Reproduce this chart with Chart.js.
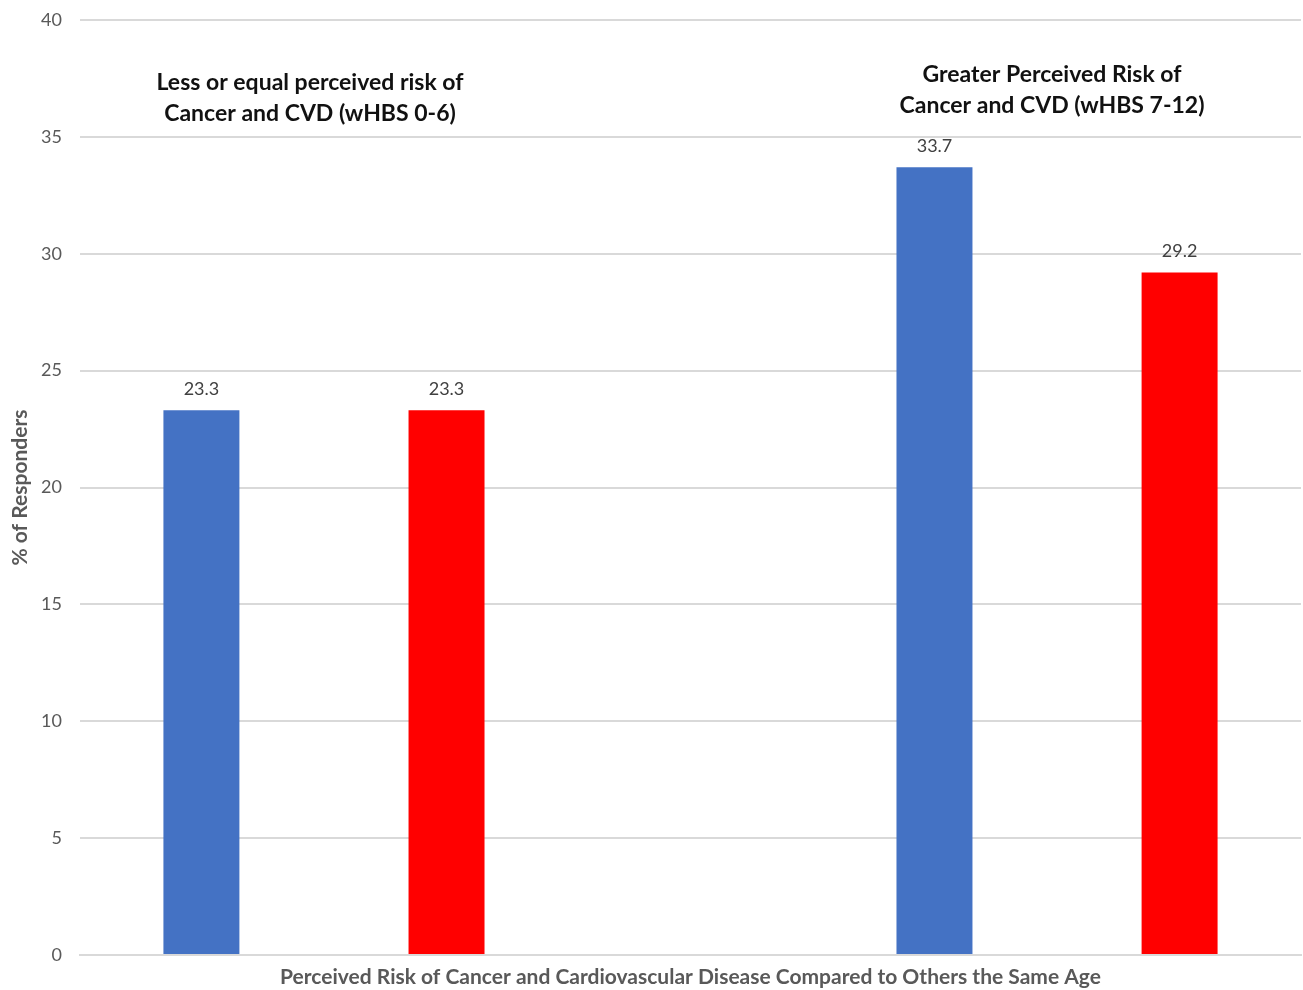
<!DOCTYPE html>
<html>
<head>
<meta charset="utf-8">
<script src="https://cdn.jsdelivr.net/npm/chart.js@4"></script>
<style>
  html, body { margin: 0; padding: 0; background: #fff; }
  #wrap { width: 1303px; height: 990px; }
</style>
</head>
<body>
<div id="wrap"><canvas id="chart" width="1303" height="990"></canvas></div>
<script>
// data
const categories = ['Less or equal', 'Greater'];
const groupTitles = [
  ['Less or equal perceived risk of', 'Cancer and CVD (wHBS 0-6)'],
  ['Greater Perceived Risk of', 'Cancer and CVD (wHBS 7-12)']
];
// each group uses two of four Excel-style slots, so the series are split
const blueLow = [23.3, null];
const blueHigh = [null, 33.7];
const redLow = [23.3, null];
const redHigh = [null, 29.2];
const yTicks = [0, 5, 10, 15, 20, 25, 30, 35, 40];

const FONT = 'Lato, "Open Sans", sans-serif';

const valueLabels = {
  id: 'valueLabels',
  afterDatasetsDraw(chart) {
    const ctx = chart.ctx;
    ctx.save();
    ctx.font = '18px ' + FONT;
    ctx.fillStyle = '#404040';
    ctx.textAlign = 'center';
    ctx.textBaseline = 'bottom';
    chart.data.datasets.forEach((ds, i) => {
      chart.getDatasetMeta(i).data.forEach((bar, j) => {
        if (ds.data[j] == null) return;
        ctx.fillText(ds.data[j].toFixed(1), bar.x, bar.y - 12);
      });
    });
    ctx.restore();
  }
};

const groupLabels = {
  id: 'groupLabels',
  afterDraw(chart) {
    const ctx = chart.ctx;
    ctx.save();
    ctx.font = 'bold 23px ' + FONT;
    ctx.fillStyle = '#111';
    ctx.textAlign = 'center';
    ctx.textBaseline = 'middle';
    // first block sits left of its category, second a bit right
    const pos = [[310, 83], [1052, 75]];
    groupTitles.forEach((lines, i) => {
      lines.forEach((t, k) => ctx.fillText(t, pos[i][0], pos[i][1] + k * 31));
    });
    ctx.restore();
  }
};

new Chart(document.getElementById('chart'), {
  type: 'bar',
  data: {
    labels: categories,
    datasets: [
      { label: 'low blue', data: blueLow, backgroundColor: '#4472C4' },
      { label: 'high blue', data: blueHigh, backgroundColor: '#4472C4' },
      { label: 'low red', data: redLow, backgroundColor: '#FF0000' },
      { label: 'high red', data: redHigh, backgroundColor: '#FF0000' }
    ]
  },
  options: {
    responsive: false,
    animation: false,
    layout: { padding: { top: 20, right: 2, left: 0, bottom: 0 } },
    datasets: { bar: { categoryPercentage: 0.803, barPercentage: 0.62 } },
    plugins: {
      legend: { display: false },
      tooltip: { enabled: false }
    },
    scales: {
      x: {
        grid: { display: false },
        border: { color: '#d9d9d9', width: 2 },
        ticks: { display: false },
        title: {
          display: true,
          text: 'Perceived Risk of Cancer and Cardiovascular Disease Compared to Others the Same Age',
          font: { family: FONT, size: 21, weight: 'bold' },
          color: '#595959',
          padding: { top: 11, bottom: 0 }
        },
        afterFit: s => { s.height = 35; }
      },
      y: {
        min: 0,
        max: 40,
        afterBuildTicks: s => { s.ticks = yTicks.map(v => ({ value: v })); },
        grid: { color: '#d9d9d9', lineWidth: 2, drawTicks: false },
        border: { display: false },
        ticks: {
          font: { family: FONT, size: 18 },
          color: '#595959',
          padding: 18
        },
        title: {
          display: true,
          text: '% of Responders',
          font: { family: FONT, size: 21, weight: 'bold' },
          color: '#595959',
          padding: { top: 8, bottom: 0 }
        },
        afterFit: s => { s.width = 80; s.paddingTop = 0; s.paddingBottom = 0; }
      }
    }
  },
  plugins: [valueLabels, groupLabels]
});
</script>
</body>
</html>
